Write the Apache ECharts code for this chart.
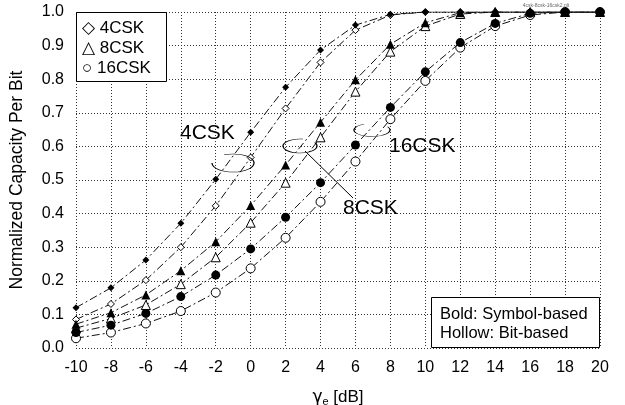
<!DOCTYPE html>
<html>
<head>
<meta charset="utf-8">
<script src="https://cdn.jsdelivr.net/npm/echarts@6/dist/echarts.min.js"></script>
<style>
  body { margin: 0; background: #fff; }
  #chart { width: 625px; height: 405px; }
</style>
</head>
<body>
<div id="chart"></div>
<script>
// gamma_e [dB]
var snr = [-10, -8, -6, -4, -2, 0, 2, 4, 6, 8, 10, 12, 14, 16, 18, 20];

// normalized capacity per bit
var csk4Sym  = [0.120, 0.179, 0.262, 0.371, 0.502, 0.642, 0.776, 0.887, 0.961, 0.993, 1.0, 1.0, 1.0, 1.0, 1.0, 1.0];
var csk4Bit  = [0.085, 0.131, 0.202, 0.300, 0.423, 0.567, 0.713, 0.850, 0.946, 0.991, 1.0, 1.0, 1.0, 1.0, 1.0, 1.0];
var csk8Sym  = [0.071, 0.105, 0.158, 0.230, 0.316, 0.424, 0.545, 0.672, 0.798, 0.904, 0.968, 0.998, 1.0, 1.0, 1.0, 1.0];
var csk8Bit  = [0.059, 0.088, 0.128, 0.190, 0.270, 0.373, 0.492, 0.627, 0.763, 0.882, 0.958, 0.994, 1.0, 1.0, 1.0, 1.0];
var csk16Sym = [0.046, 0.068, 0.103, 0.153, 0.217, 0.295, 0.389, 0.492, 0.604, 0.716, 0.822, 0.909, 0.966, 0.996, 1.0, 1.0];
var csk16Bit = [0.029, 0.046, 0.073, 0.110, 0.165, 0.237, 0.328, 0.435, 0.555, 0.681, 0.795, 0.894, 0.958, 0.991, 1.0, 1.0];

var yTicks = [0, 0.1, 0.2, 0.3, 0.4, 0.5, 0.6, 0.7, 0.8, 0.9, 1.0];

var FONT = '"Liberation Sans", Arial, sans-serif';
var DEG = Math.PI / 180;

function pairs(ys) {
    return snr.map(function (x, i) { return [x, ys[i]]; });
}

function curve(name, ys, symbol, size, hollow) {
    return {
        name: name,
        type: 'line',
        data: pairs(ys),
        symbol: symbol,
        symbolSize: size,
        showSymbol: true,
        lineStyle: { color: '#111', width: 1, type: [8, 3, 2, 3] },
        itemStyle: hollow
            ? { color: '#fff', borderColor: '#000', borderWidth: 1 }
            : { color: '#000', borderColor: '#000', borderWidth: 0 },
        z: hollow ? 3 : 4
    };
}

// open ellipse drawn as a squashed arc
function ring(cx, cy, rx, ry, a0, a1) {
    return {
        type: 'arc', x: cx, y: cy, scaleY: ry / rx, z: 11,
        shape: { cx: 0, cy: 0, r: rx, startAngle: a0 * DEG, endAngle: a1 * DEG, clockwise: true },
        style: { fill: null, stroke: '#000', lineWidth: 1.3, strokeNoScale: true }
    };
}

var chart = echarts.init(document.getElementById('chart'));

var option = {
    animation: false,
    backgroundColor: '#fff',
    grid: { left: 76, right: 25, top: 12, bottom: 57, outerBoundsMode: 'none', containLabel: false },
    xAxis: {
        type: 'value',
        min: -10, max: 20, interval: 2,
        axisLine: { show: false },
        axisTick: { show: false },
        axisLabel: { color: '#000', fontSize: 16, fontFamily: FONT, margin: 12 },
        splitLine: { show: true, lineStyle: { color: '#333', type: [1, 2], width: 1 } },
        name: '{g|γ}{s|e} {t|[dB]}',
        nameLocation: 'middle',
        nameGap: 40,
        nameTextStyle: {
            color: '#000', fontSize: 17, fontFamily: FONT,
            rich: {
                g: { fontSize: 17, fontFamily: 'DejaVu Sans', color: '#000' },
                s: { fontSize: 11, fontFamily: FONT, color: '#000', padding: [8, 0, 0, 0] },
                t: { fontSize: 17, fontFamily: FONT, color: '#000' }
            }
        }
    },
    yAxis: {
        type: 'value',
        min: yTicks[0], max: yTicks[yTicks.length - 1], interval: 0.1,
        axisLine: { show: false },
        axisTick: { show: false },
        axisLabel: {
            color: '#000', fontSize: 16, fontFamily: FONT, margin: 12,
            formatter: function (v) { return v.toFixed(1); }
        },
        splitLine: { show: true, lineStyle: { color: '#333', type: [1, 2], width: 1 } },
        name: 'Normalized Capacity Per Bit',
        nameLocation: 'middle',
        nameGap: 50,
        nameTextStyle: { color: '#000', fontSize: 17.5, fontFamily: FONT }
    },
    series: [
        curve('4CSK bold', csk4Sym, 'diamond', 7, false),
        curve('4CSK', csk4Bit, 'diamond', 7, true),
        curve('8CSK bold', csk8Sym, 'triangle', 9, false),
        curve('8CSK', csk8Bit, 'triangle', 9, true),
        curve('16CSK bold', csk16Sym, 'circle', 9, false),
        curve('16CSK', csk16Bit, 'circle', 9, true)
    ],
    graphic: [
        // marker legend
        { type: 'rect', shape: { x: 76.5, y: 12.5, width: 90, height: 69 },
          style: { fill: '#fff', stroke: '#000', lineWidth: 1 }, z: 10 },
        { type: 'text', x: 82, y: 28, z: 11,
          style: { text: '\u25C7 4CSK', font: '17px ' + FONT, fill: '#000', verticalAlign: 'middle' } },
        { type: 'text', x: 82, y: 48, z: 11,
          style: { text: '\u25B3 8CSK', font: '17px ' + FONT, fill: '#000', verticalAlign: 'middle' } },
        { type: 'text', x: 82, y: 68, z: 11,
          style: { text: '\u25CB 16CSK', font: '17px ' + FONT, fill: '#000', verticalAlign: 'middle' } },

        // bold / hollow note
        { type: 'rect', shape: { x: 431.5, y: 297.5, width: 168, height: 50 },
          style: { fill: '#fff', stroke: '#000', lineWidth: 1 }, z: 10 },
        { type: 'text', x: 440, y: 314, z: 11,
          style: { text: 'Bold: Symbol-based', font: '16.5px ' + FONT, fill: '#000', verticalAlign: 'middle' } },
        { type: 'text', x: 440, y: 333, z: 11,
          style: { text: 'Hollow: Bit-based', font: '16.5px ' + FONT, fill: '#000', verticalAlign: 'middle' } },

        // curve group annotations
        { type: 'text', x: 180, y: 133, z: 11,
          style: { text: '4CSK', font: '21px ' + FONT, fill: '#000', verticalAlign: 'middle' } },
        ring(233, 163, 21, 9, -115, 180),

        { type: 'text', x: 343, y: 208, z: 11,
          style: { text: '8CSK', font: '21px ' + FONT, fill: '#000', verticalAlign: 'middle' } },
        ring(300, 146, 17, 7, -30, 280),
        { type: 'line', z: 11, shape: { x1: 305, y1: 151, x2: 353, y2: 198 },
          style: { stroke: '#000', lineWidth: 1 } },

        { type: 'text', x: 389, y: 146, z: 11,
          style: { text: '16CSK', font: '21px ' + FONT, fill: '#000', verticalAlign: 'middle' } },
        ring(372, 130, 18, 6.5, -30, 244),

        // file tag
        { type: 'text', x: 546, y: 6, z: 11,
          style: { text: '4csk-8csk-16csk2.plt', font: '5px ' + FONT, fill: '#666', align: 'center', verticalAlign: 'middle' } }
    ]
};

chart.setOption(option);
</script>
</body>
</html>
